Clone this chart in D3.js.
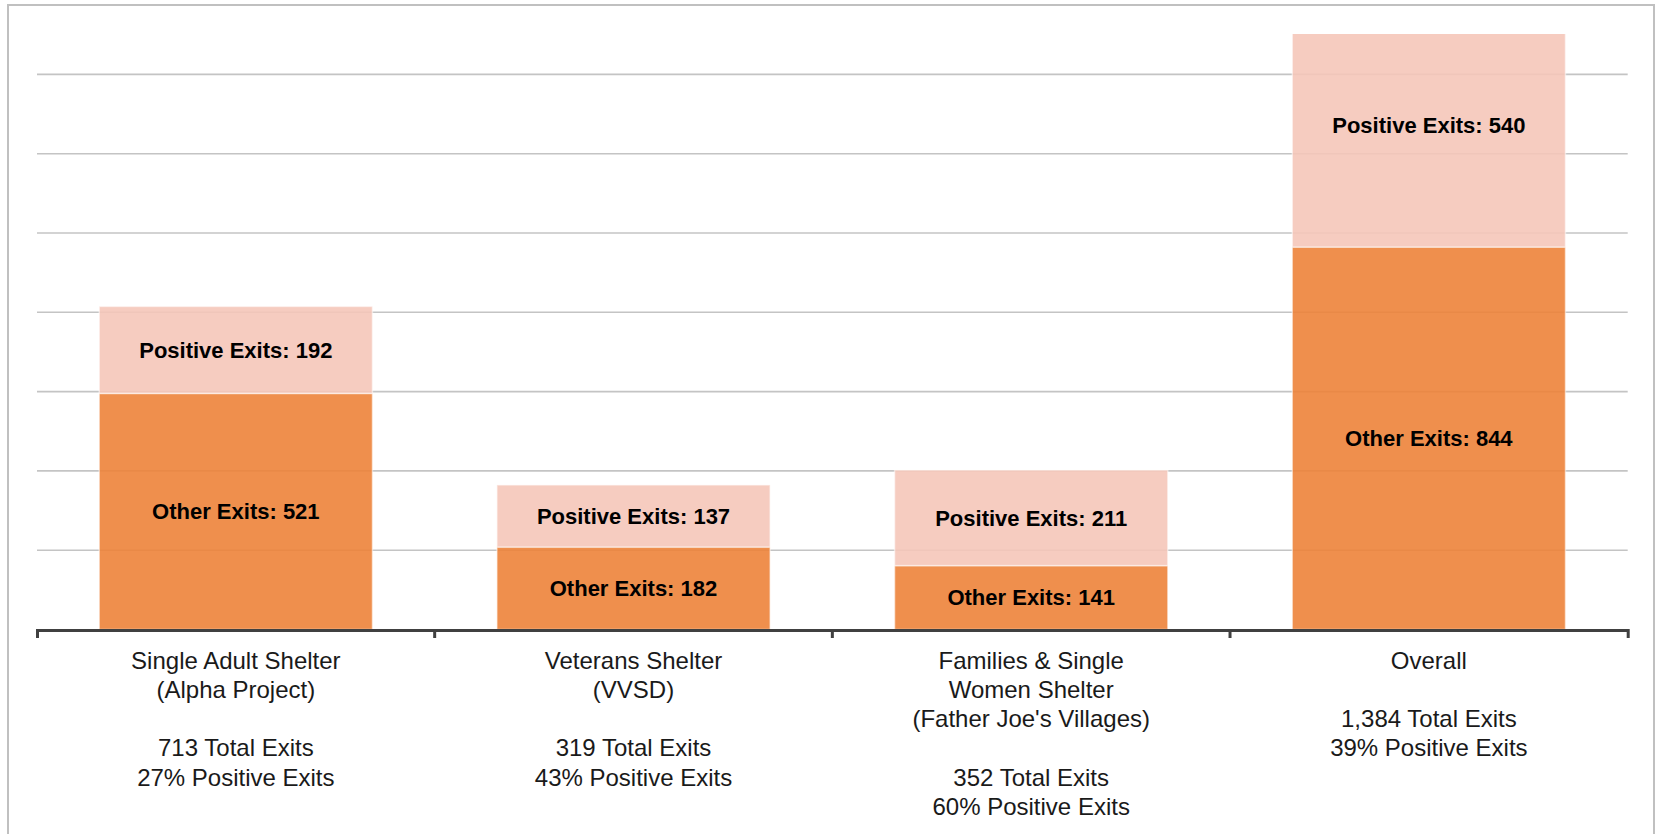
<!DOCTYPE html>
<html>
<head>
<meta charset="utf-8">
<script src="https://cdn.jsdelivr.net/npm/d3@7"></script>
<style>
    body { margin: 0; background: #fff; }
    svg { display: block; }
    .cat-label { font-family: "Liberation Sans", Arial, sans-serif; font-size: 24px; fill: #1a1a1a; }
    .bar-label { font-family: "Liberation Sans", Arial, sans-serif; font-size: 22px; font-weight: bold; fill: #000; }
</style>
</head>
<body>
<svg id="chart" width="1657" height="834"></svg>
<script>
// shelter exits
var categories = ["Single Adult Shelter", "Veterans Shelter", "Families & Single Women Shelter", "Overall"];
var categoryLines = [
    ["Single Adult Shelter", "(Alpha Project)"],
    ["Veterans Shelter", "(VVSD)"],
    ["Families & Single", "Women Shelter", "(Father Joe's Villages)"],
    ["Overall"]
];
var otherExits = [521, 182, 141, 844];
var positiveExits = [192, 137, 211, 540];
var gridValues = [175, 350, 525, 700, 875, 1050, 1225];

var colors = {
    other: "#ED833A",
    positive: "#F5C7B9",
    grid: "#c4c4c4",
    axis: "#404040",
    frame: "#c0c0c0"
};

var svg = d3.select("#chart"),
    width = +svg.attr("width"),
    height = +svg.attr("height"),
    plotLeft = 37,
    plotRight = 1627.7,
    plotTop = 34,
    baseY = 629.5;

var x = d3.scaleBand()
    .domain(categories)
    .range([plotLeft, plotRight])
    .paddingInner(0.313)
    .paddingOuter(0.1565);

var y = d3.scaleLinear()
    .domain([0, 1225])
    .range([baseY, 74.4]);

var fmtInt = d3.format(","),
    fmtPct = d3.format(".0%");

// outer frame
svg.append("rect")
    .attr("x", 8)
    .attr("y", 5)
    .attr("width", 1646)
    .attr("height", 900)
    .attr("fill", "none")
    .attr("stroke", colors.frame)
    .attr("stroke-width", 2);

// gridlines
svg.append("g")
    .selectAll("line")
    .data(gridValues)
    .join("line")
    .attr("x1", plotLeft)
    .attr("x2", plotRight)
    .attr("y1", function(d) { return y(d); })
    .attr("y2", function(d) { return y(d); })
    .attr("stroke", colors.grid)
    .attr("stroke-width", 1.6);

// bars get clipped at the top of the plot area (the overall bar runs past it)
svg.append("clipPath")
    .attr("id", "plotClip")
    .append("rect")
    .attr("x", 0)
    .attr("y", plotTop)
    .attr("width", width)
    .attr("height", height);

var rows = categories.map(function(c, i) {
    return {
        cat: c,
        other: otherExits[i],
        positive: positiveExits[i],
        total: otherExits[i] + positiveExits[i],
        lines: categoryLines[i]
    };
});

var bars = svg.append("g").attr("clip-path", "url(#plotClip)");

bars.selectAll("rect.other")
    .data(rows)
    .join("rect")
    .attr("class", "other")
    .attr("x", function(d) { return x(d.cat); })
    .attr("width", x.bandwidth())
    .attr("y", function(d) { return y(d.other); })
    .attr("height", function(d) { return y(0) - y(d.other); })
    .attr("fill", colors.other)
    .attr("fill-opacity", 0.9)
    .attr("stroke", "#fff")
    .attr("stroke-opacity", 0.5)
    .attr("stroke-width", 1.5);

bars.selectAll("rect.positive")
    .data(rows)
    .join("rect")
    .attr("class", "positive")
    .attr("x", function(d) { return x(d.cat); })
    .attr("width", x.bandwidth())
    .attr("y", function(d) { return y(d.total); })
    .attr("height", function(d) { return y(d.other) - y(d.total); })
    .attr("fill", colors.positive)
    .attr("fill-opacity", 0.9)
    .attr("stroke", "#fff")
    .attr("stroke-opacity", 0.5)
    .attr("stroke-width", 1.5);

// data labels, centred in each segment
var labels = svg.append("g");
rows.forEach(function(d) {
    var cx = x(d.cat) + x.bandwidth() / 2;
    labels.append("text")
        .attr("class", "bar-label")
        .attr("x", cx)
        .attr("y", (y(0) + y(d.other)) / 2)
        .attr("dy", "0.36em")
        .attr("text-anchor", "middle")
        .text("Other Exits: " + d.other);
    labels.append("text")
        .attr("class", "bar-label")
        .attr("x", cx)
        .attr("y", (y(d.other) + y(d.total)) / 2)
        .attr("dy", "0.36em")
        .attr("text-anchor", "middle")
        .text("Positive Exits: " + d.positive);
});

// category axis, ticks sit between the categories
var xAxis = d3.axisBottom(x).tickSizeInner(0).tickSizeOuter(8).tickFormat("");
var axisG = svg.append("g")
    .attr("transform", "translate(0," + (baseY + 0.5) + ")")
    .call(xAxis);
axisG.select(".domain")
    .attr("stroke", colors.axis)
    .attr("stroke-width", 3);
axisG.selectAll(".tick").remove();

axisG.selectAll("line.sep")
    .data(categories.slice(1))
    .join("line")
    .attr("class", "sep")
    .attr("x1", function(d) { return x(d) - x.step() * x.paddingInner() / 2; })
    .attr("x2", function(d) { return x(d) - x.step() * x.paddingInner() / 2; })
    .attr("y1", 0)
    .attr("y2", 8)
    .attr("stroke", colors.axis)
    .attr("stroke-width", 3);

// category text under the axis
var catG = svg.append("g");
rows.forEach(function(d) {
    var lines = d.lines.concat(["", fmtInt(d.total) + " Total Exits", fmtPct(d.positive / d.total) + " Positive Exits"]);
    var t = catG.append("text")
        .attr("class", "cat-label")
        .attr("text-anchor", "middle")
        .attr("x", x(d.cat) + x.bandwidth() / 2)
        .attr("y", 668.5);
    lines.forEach(function(line, j) {
        t.append("tspan")
            .attr("x", x(d.cat) + x.bandwidth() / 2)
            .attr("y", 668.5 + j * 29.3)
            .text(line);
    });
});
</script>
</body>
</html>
